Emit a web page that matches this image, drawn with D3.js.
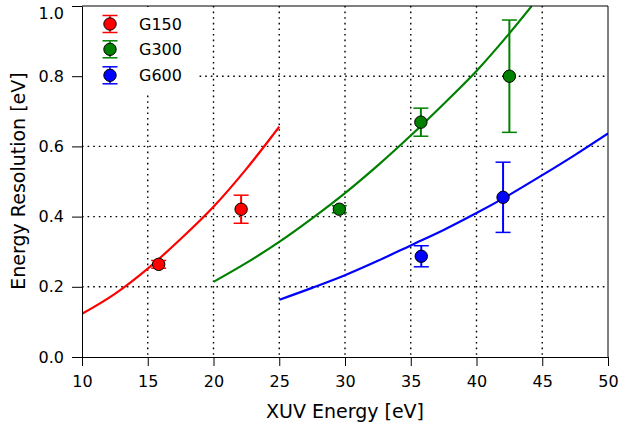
<!DOCTYPE html>
<html>
<head>
<meta charset="utf-8">
<script src="https://cdn.jsdelivr.net/npm/d3@7"></script>
<style>
  body { margin: 0; background: #fff; }
  svg { display: block; font-family: 'DejaVu Sans', sans-serif; }
</style>
</head>
<body>
<div class="canvas"></div>
<script>
// grating names + colours
const gratings = ['G150', 'G300', 'G600'];
const colors = ['#ff0000', '#008000', '#0000ff'];

// measured points (energy, resolution, error)
const g150Energy = [15.83, 22.1];
const g150Res = [0.264, 0.421];
const g150Err = [0.011, 0.04];

const g300Energy = [29.57, 35.77, 42.5];
const g300Res = [0.421, 0.669, 0.8];
const g300Err = [0.01, 0.04, 0.16];

const g600Energy = [35.8, 42.02];
const g600Res = [0.287, 0.455];
const g600Err = [0.03, 0.1];

// curves
const g150CurveE = [10, 12.5, 15, 17.5, 20, 22.5, 25];
const g150CurveR = [0.123, 0.18, 0.252, 0.336, 0.428, 0.536, 0.656];

const g300CurveE = [20, 22.5, 25, 27.5, 30, 32.5, 35, 37.5, 40, 42.5, 44.2];
const g300CurveR = [0.214, 0.268, 0.328, 0.395, 0.467, 0.546, 0.631, 0.721, 0.815, 0.922, 1.0];

const g600CurveE = [25, 27.5, 30, 32.5, 35, 37.5, 40, 42.5, 45, 47.5, 50];
const g600CurveR = [0.163, 0.197, 0.233, 0.274, 0.318, 0.362, 0.41, 0.462, 0.518, 0.576, 0.637];

// ticks
const xTicks = [10, 15, 20, 25, 30, 35, 40, 45, 50];
const yTicks = [0.0, 0.2, 0.4, 0.6, 0.8, 1.0];

const margin = { top: 6, right: 12, bottom: 68, left: 82 };
const graphWidth = 620 - margin.left - margin.right;
const graphHeight = 425 - margin.top - margin.bottom;

const svg = d3
  .select('.canvas')
  .append('svg')
  .attr('width', 620)
  .attr('height', 425);

const graph = svg
  .append('g')
  .attr('transform', `translate(${margin.left}, ${margin.top})`);

//scales
const x = d3.scaleLinear().domain([10, 50]).range([0, graphWidth]);
const y = d3.scaleLinear().domain([0, 1]).range([graphHeight, 0]);

graph
  .append('clipPath')
  .attr('id', 'clip')
  .append('rect')
  .attr('width', graphWidth)
  .attr('height', graphHeight);

//dotted grid
const grid = graph.append('g').attr('class', 'grid');
grid
  .selectAll('.vgrid')
  .data(xTicks.slice(1, -1))
  .enter()
  .append('line')
  .attr('x1', (d) => x(d))
  .attr('x2', (d) => x(d))
  .attr('y1', 0)
  .attr('y2', graphHeight)
  .attr('stroke', '#000')
  .attr('stroke-width', 1.4)
  .attr('stroke-dasharray', '1.6,4');
grid
  .selectAll('.hgrid')
  .data(yTicks.slice(1, -1))
  .enter()
  .append('line')
  .attr('x1', 0)
  .attr('x2', graphWidth)
  .attr('y1', (d) => y(d))
  .attr('y2', (d) => y(d))
  .attr('stroke', '#000')
  .attr('stroke-width', 1.4)
  .attr('stroke-dasharray', '1.6,4');

//curves
const curves = [
  g150CurveE.map((e, i) => [e, g150CurveR[i]]),
  g300CurveE.map((e, i) => [e, g300CurveR[i]]),
  g600CurveE.map((e, i) => [e, g600CurveR[i]]),
];

const line = d3
  .line()
  .x((d) => x(d[0]))
  .y((d) => y(d[1]))
  .curve(d3.curveMonotoneX);

graph
  .append('g')
  .attr('clip-path', 'url(#clip)')
  .selectAll('path')
  .data(curves)
  .enter()
  .append('path')
  .attr('fill', 'none')
  .attr('stroke', (d, i) => colors[i])
  .attr('stroke-width', 2.2)
  .attr('d', line);

//error bars + points
const series = [
  g150Energy.map((e, i) => ({ e, r: g150Res[i], err: g150Err[i], c: colors[0] })),
  g300Energy.map((e, i) => ({ e, r: g300Res[i], err: g300Err[i], c: colors[1] })),
  g600Energy.map((e, i) => ({ e, r: g600Res[i], err: g600Err[i], c: colors[2] })),
].flat();

const cap = 7.5;
const pts = graph.append('g').selectAll('g').data(series).enter().append('g');

pts
  .append('line')
  .attr('x1', (d) => x(d.e))
  .attr('x2', (d) => x(d.e))
  .attr('y1', (d) => y(d.r - d.err))
  .attr('y2', (d) => y(d.r + d.err))
  .attr('stroke', (d) => d.c)
  .attr('stroke-width', 2);

[-1, 1].forEach((s) => {
  pts
    .append('line')
    .attr('x1', (d) => x(d.e) - cap)
    .attr('x2', (d) => x(d.e) + cap)
    .attr('y1', (d) => y(d.r + s * d.err))
    .attr('y2', (d) => y(d.r + s * d.err))
    .attr('stroke', (d) => d.c)
    .attr('stroke-width', 1.5);
});

pts
  .append('circle')
  .attr('cx', (d) => x(d.e))
  .attr('cy', (d) => y(d.r))
  .attr('r', 6.2)
  .attr('fill', (d) => d.c)
  .attr('stroke', '#000')
  .attr('stroke-width', 1);

//legend
const legend = graph.append('g');
legend
  .append('rect')
  .attr('x', 1)
  .attr('y', 1)
  .attr('width', 116)
  .attr('height', 85)
  .attr('fill', '#fff');

const legendY = [18, 43.3, 69.3];
gratings.forEach((name, i) => {
  const ly = legendY[i];
  const lx = 28;
  legend
    .append('line')
    .attr('x1', lx).attr('x2', lx)
    .attr('y1', ly - 8.5).attr('y2', ly + 8.5)
    .attr('stroke', colors[i]).attr('stroke-width', 1.5);
  [-8.5, 8.5].forEach((o) => {
    legend
      .append('line')
      .attr('x1', lx - cap).attr('x2', lx + cap)
      .attr('y1', ly + o).attr('y2', ly + o)
      .attr('stroke', colors[i]).attr('stroke-width', 1.5);
  });
  legend
    .append('circle')
    .attr('cx', lx).attr('cy', ly).attr('r', 6.2)
    .attr('fill', colors[i]).attr('stroke', '#000').attr('stroke-width', 1);
  legend
    .append('text')
    .attr('x', 57)
    .attr('y', ly)
    .attr('dy', '0.36em')
    .attr('font-size', 16)
    .text(name);
});

//axes
const xAxis = d3.axisBottom(x).tickValues(xTicks).tickSize(9).tickPadding(10).tickSizeOuter(0);
const yAxis = d3
  .axisLeft(y)
  .tickValues(yTicks)
  .tickSize(10)
  .tickPadding(8)
  .tickSizeOuter(0)
  .tickFormat(d3.format('.1f'));

const xAxisGroup = graph
  .append('g')
  .attr('transform', `translate(0, ${graphHeight})`)
  .call(xAxis);
const yAxisGroup = graph.append('g').call(yAxis);

[xAxisGroup, yAxisGroup].forEach((g) => {
  g.selectAll('text').attr('font-size', 16).attr('fill', '#000').attr('font-family', 'DejaVu Sans');
  g.selectAll('line').attr('stroke', '#000');
  g.select('.domain').attr('stroke', '#000');
});

// top label sits a little lower in the reference
yAxisGroup
  .selectAll('.tick text')
  .filter((d) => d === 1)
  .attr('dy', '0.78em');

//top + right spines
graph
  .append('line')
  .attr('x1', 0).attr('x2', graphWidth)
  .attr('y1', 0).attr('y2', 0)
  .attr('stroke', '#000');
graph
  .append('line')
  .attr('x1', graphWidth).attr('x2', graphWidth)
  .attr('y1', 0).attr('y2', graphHeight)
  .attr('stroke', '#000');

//axis titles
svg
  .append('text')
  .attr('x', margin.left + graphWidth / 2)
  .attr('y', 418)
  .attr('text-anchor', 'middle')
  .attr('font-size', 19)
  .text('XUV Energy [eV]');

svg
  .append('text')
  .attr('transform', 'translate(25, 181) rotate(-90)')
  .attr('text-anchor', 'middle')
  .attr('font-size', 19)
  .text('Energy Resolution [eV]');
</script>
</body>
</html>
